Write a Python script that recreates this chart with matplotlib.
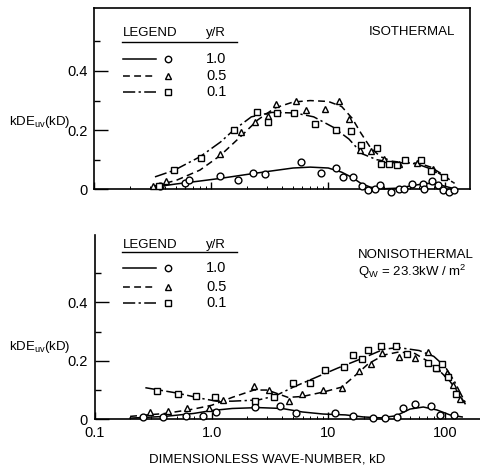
#!/usr/bin/env python
import matplotlib
matplotlib.use('Agg')
import matplotlib.pyplot as plt
from matplotlib.lines import Line2D
from matplotlib.ticker import FixedLocator, LogLocator, NullFormatter

# --- isothermal panel: measured points, y/R = 1.0, 0.5, 0.1
iso_r10_k = [0.366, 0.60, 0.65, 1.19, 1.70, 2.29, 2.88, 5.8, 8.6, 11.6, 13.4, 16.4, 19.3,
             22.0, 25.1, 27.7, 34.1, 40.2, 44.6, 51.6, 64.9, 65.5, 76.6, 87.1, 95, 108, 119]
iso_r10_v = [0.011, 0.020, 0.033, 0.044, 0.033, 0.055, 0.051, 0.093, 0.055, 0.073, 0.042, 0.040, 0.010,
             -0.001, 0.0, 0.014, -0.009, 0.0, 0.0, 0.019, 0.017, 0.0, 0.028, 0.014, -0.003, -0.009, -0.003]
iso_r05_k = [0.32, 0.41, 1.19, 1.78, 2.37, 3.03, 3.57, 5.3, 6.5, 9.4, 12.4, 15.1, 18.7, 23.0,
             30.1, 40.2, 57, 78]
iso_r05_v = [0.010, 0.028, 0.121, 0.194, 0.228, 0.248, 0.288, 0.299, 0.267, 0.273, 0.299, 0.239,
             0.132, 0.128, 0.104, 0.087, 0.089, 0.067]
iso_r01_k = [0.36, 0.48, 0.81, 1.57, 2.44, 3.03, 3.62, 5.1, 7.7, 11.6, 15.5, 18.9, 25.9, 28.1,
             33.2, 38.9, 45.3, 61.7, 75, 97.5]
iso_r01_v = [0.012, 0.064, 0.106, 0.200, 0.261, 0.228, 0.258, 0.258, 0.222, 0.200, 0.197, 0.149,
             0.141, 0.085, 0.087, 0.081, 0.098, 0.100, 0.062, 0.040]

# --- isothermal panel: faired curves
iso_fit10_k = [0.33, 0.5, 0.8, 1.2, 2, 3, 5, 7, 10, 13, 16, 19, 23, 30, 40, 55, 70, 85, 100, 125]
iso_fit10_v = [0.008, 0.018, 0.028, 0.037, 0.05, 0.06, 0.072, 0.075, 0.072, 0.058, 0.04, 0.02,
               0.007, 0.002, 0.004, 0.014, 0.02, 0.018, 0.01, 0.0]
iso_fit05_k = [0.33, 0.5, 0.8, 1.2, 1.8, 2.5, 3.5, 5, 7, 10, 13, 16, 19, 23, 28, 35, 45, 60, 75,
               95, 120]
iso_fit05_v = [0.012, 0.03, 0.065, 0.115, 0.18, 0.235, 0.275, 0.295, 0.3, 0.297, 0.28, 0.24, 0.19,
               0.14, 0.11, 0.095, 0.09, 0.088, 0.075, 0.05, 0.02]
iso_fit01_k = [0.33, 0.48, 0.8, 1.2, 1.55, 2.2, 3.3, 5.2, 7.5, 11, 15, 19.5, 26, 36, 47, 58, 80,
               105, 120]
iso_fit01_v = [0.042, 0.064, 0.11, 0.16, 0.2, 0.245, 0.26, 0.258, 0.245, 0.21, 0.17, 0.12, 0.1,
               0.09, 0.09, 0.085, 0.065, 0.035, 0.02]

# --- nonisothermal panel: measured points
non_r10_k = [0.26, 0.385, 0.60, 0.85, 1.08, 2.35, 3.85, 5.27, 11.4, 16.4, 24, 30.6, 38.5, 43.9,
             55.2, 75.7, 90.3, 119]
non_r10_v = [0.007, 0.008, 0.011, 0.011, 0.026, 0.041, 0.045, 0.020, 0.020, 0.012, 0.003, 0.006,
             0.007, 0.037, 0.051, 0.045, 0.015, 0.015]
non_r05_k = [0.296, 0.425, 0.62, 0.95, 1.26, 2.3, 3.12, 4.6, 5.95, 8.9, 13, 18.3, 23.2, 29, 40.3,
             55.2, 71, 84.5, 103, 117, 134]
non_r05_v = [0.026, 0.030, 0.037, 0.040, 0.066, 0.114, 0.100, 0.064, 0.085, 0.100, 0.108, 0.165,
             0.188, 0.228, 0.212, 0.208, 0.229, 0.174, 0.159, 0.117, 0.068]
non_r01_k = [0.338, 0.51, 0.74, 1.07, 2.35, 3.42, 5.0, 6.9, 9.35, 13.6, 16.1, 19.3, 21.7, 28.1,
             37.7, 47.5, 71, 83.6, 93.5, 106, 123]
non_r01_v = [0.097, 0.087, 0.080, 0.077, 0.064, 0.077, 0.123, 0.123, 0.169, 0.180, 0.220, 0.205,
             0.237, 0.250, 0.250, 0.222, 0.194, 0.174, 0.189, 0.143, 0.087]

# --- nonisothermal panel: faired curves
non_fit10_k = [0.2, 0.4, 0.7, 1.0, 1.5, 2.5, 4, 6, 9, 14, 20, 28, 38, 50, 65, 85, 110, 140]
non_fit10_v = [0.004, 0.01, 0.02, 0.03, 0.037, 0.04, 0.037, 0.025, 0.018, 0.015, 0.008, 0.005,
               0.012, 0.035, 0.042, 0.032, 0.015, 0.008]
non_fit05_k = [0.2, 0.4, 0.7, 1.0, 1.5, 2.3, 3, 4.5, 6, 9, 13, 17, 22, 30, 40, 55, 70, 90, 110,
               130, 150]
non_fit05_v = [0.01, 0.02, 0.035, 0.048, 0.075, 0.1, 0.1, 0.075, 0.078, 0.093, 0.11, 0.15, 0.19,
               0.22, 0.23, 0.225, 0.2, 0.165, 0.13, 0.09, 0.05]
non_fit01_k = [0.27, 0.5, 0.8, 1.1, 1.5, 2.5, 3.5, 5, 8, 12, 20, 30, 40, 60, 80, 100, 120, 135, 150]
non_fit01_v = [0.108, 0.09, 0.072, 0.062, 0.062, 0.066, 0.08, 0.11, 0.145, 0.175, 0.21, 0.24,
               0.245, 0.235, 0.215, 0.18, 0.13, 0.09, 0.055]

legend_values = ['1.0', '0.5', '0.1']
x_tick_values = [0.1, 1.0, 10, 100]
x_tick_labels = ['0.1', '1.0', '10', '100']
y_tick_values = [0, 0.2, 0.4]
y_tick_labels = ['0', '0.2', '0.4']

W, H = 480.0, 466.0
LINE_STYLES = ['-', (0, (4.5, 2.8)), (0, (8, 2.2, 1.5, 2.2))]
MARKERS = ['o', '^', 's']

plt.rcParams.update({
    'font.family': ['Liberation Sans', 'DejaVu Sans'],
    'mathtext.default': 'regular',
    'axes.linewidth': 1.2,
})


def fx(x):
    return x / W


def fy(y):
    return 1.0 - y / H


def draw_panel(ax, fits, points, xmax, ymax, labelled):
    """
    Draw faired curves and open markers on a log-x panel.
    """
    for (k, v), ls in zip(fits, LINE_STYLES):
        ax.plot(k, v, color='black', linestyle=ls, linewidth=1.1, clip_on=False)
    for (k, v), m in zip(points, MARKERS):
        ax.plot(k, v, linestyle='none', marker=m, markersize=4.9 if m != '^' else 4.6,
                markerfacecolor='white', markeredgecolor='black', markeredgewidth=1.0,
                clip_on=False, zorder=3)
    ax.set_xscale('log')
    ax.set_xlim(0.1, xmax)
    ax.set_ylim(0, ymax)
    ax.yaxis.set_major_locator(FixedLocator(y_tick_values))
    ax.set_yticklabels(y_tick_labels)
    ax.yaxis.set_minor_locator(FixedLocator([0.1, 0.3, 0.5]))
    ax.xaxis.set_major_locator(FixedLocator(x_tick_values))
    ax.xaxis.set_minor_locator(LogLocator(base=10, subs=range(2, 10)))
    ax.xaxis.set_minor_formatter(NullFormatter())
    if labelled:
        ax.set_xticklabels(x_tick_labels)
    else:
        ax.set_xticklabels([])
    ax.tick_params(axis='y', which='major', direction='in', length=10, width=1.0,
                   pad=5, labelsize=10.5)
    ax.tick_params(axis='y', which='minor', direction='in', length=4.5, width=1.0)
    ax.tick_params(axis='x', which='major', direction='in', length=5, width=1.0,
                   pad=5, labelsize=10.5)
    ax.tick_params(axis='x', which='minor', direction='in', length=2.5, width=0.7)


def draw_key(fig, header_y, rule_y, row_ys):
    """
    Key drawn by hand: LEGEND / y/R header, underline, line + marker + value rows.
    """
    fig.text(fx(123), fy(header_y), 'LEGEND', fontsize=9.5, va='center', ha='left')
    fig.text(fx(206), fy(header_y), 'y/R', fontsize=9.5, va='center', ha='left')
    fig.add_artist(Line2D([fx(122), fx(237)], [fy(rule_y), fy(rule_y)], color='black',
                          linewidth=1.0, transform=fig.transFigure))
    for y, ls, m, val in zip(row_ys, LINE_STYLES, MARKERS, legend_values):
        fig.add_artist(Line2D([fx(123), fx(156)], [fy(y), fy(y)], color='black',
                              linestyle=ls, linewidth=1.1, transform=fig.transFigure))
        fig.add_artist(Line2D([fx(168)], [fy(y)], linestyle='none', marker=m,
                              markersize=4.6, markerfacecolor='white',
                              markeredgecolor='black', markeredgewidth=1.0,
                              transform=fig.transFigure))
        fig.text(fx(206), fy(y), val, fontsize=10.5, va='center', ha='left')


fig = plt.figure(figsize=(W / 100, H / 100), dpi=100)

# isothermal (top), full frame
ax1 = fig.add_axes([fx(94.3), fy(189.3), fx(470) - fx(94.3), (189.3 - 8) / H])
draw_panel(ax1,
           [(iso_fit10_k, iso_fit10_v), (iso_fit05_k, iso_fit05_v), (iso_fit01_k, iso_fit01_v)],
           [(iso_r10_k, iso_r10_v), (iso_r05_k, iso_r05_v), (iso_r01_k, iso_r01_v)],
           162.6, 0.613, False)

# nonisothermal (bottom), open frame
ax2 = fig.add_axes([fx(95), fy(419.3), fx(480) - fx(95), (419.3 - 235) / H])
draw_panel(ax2,
           [(non_fit10_k, non_fit10_v), (non_fit05_k, non_fit05_v), (non_fit01_k, non_fit01_v)],
           [(non_r10_k, non_r10_v), (non_r05_k, non_r05_v), (non_r01_k, non_r01_v)],
           199.0, 0.63, True)
ax2.spines['top'].set_visible(False)
ax2.spines['right'].set_visible(False)

draw_key(fig, 33, 42, [59, 76, 92])
draw_key(fig, 245, 252, [268, 287, 303])

fig.text(fx(455), fy(32), 'ISOTHERMAL', fontsize=9.5, ha='right', va='center')
fig.text(fx(358), fy(255), 'NONISOTHERMAL', fontsize=9.5, ha='left', va='center')
fig.text(fx(358), fy(272), 'Q$_W$ = 23.3kW / m$^2$', fontsize=9.5, ha='left', va='center')

fig.text(fx(9), fy(122), 'kDE$_{uv}$(kD)', fontsize=9.5, ha='left', va='center')
fig.text(fx(9), fy(347), 'kDE$_{uv}$(kD)', fontsize=9.5, ha='left', va='center')
fig.text(fx(267), fy(460), 'DIMENSIONLESS WAVE-NUMBER, kD', fontsize=9.5, ha='center',
         va='center')

fig.savefig('out.png', dpi=100)
